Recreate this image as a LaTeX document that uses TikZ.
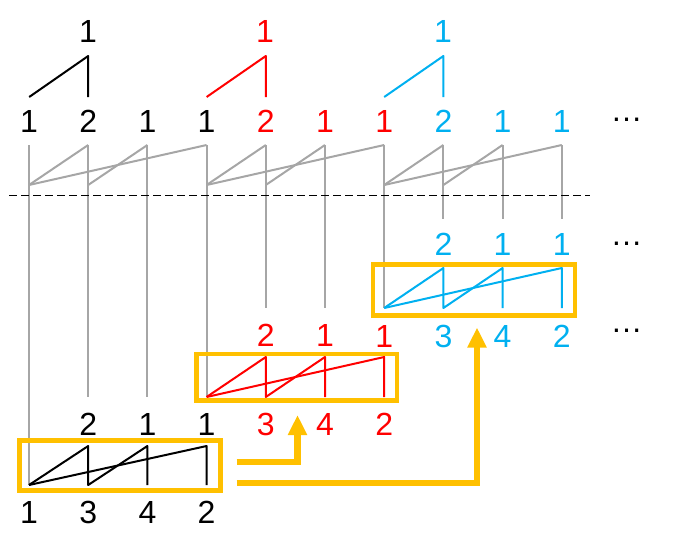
\documentclass[tikz,border=0pt]{standalone}
\usepackage{fontspec}
\setmainfont{Liberation Sans}
\usetikzlibrary{arrows.meta}
\definecolor{cgray}{HTML}{A6A6A6}
\definecolor{cred}{HTML}{FF0000}
\definecolor{cblue}{HTML}{00B0F0}
\definecolor{corange}{HTML}{FFC000}
\newcommand\drawzig[4]{%
  \draw[#4] (#1,#2) -- ({#1+59.2},#3) -- ({#1+59.2},#2) -- ({#1+118.4},#3) -- ({#1+118.4},#2);
  \draw[#4] (#1,#2) -- ({#1+177.6},#3) -- ({#1+177.6},#2);}
\newcommand\graydiag[1]{%
  \draw[gline] (#1,185) -- ({#1+59.2},145);
  \draw[gline] ({#1+59.2},185) -- ({#1+118.4},145);
  \draw[gline] (#1,185) -- ({#1+177.6},145);}
\begin{document}
\begin{tikzpicture}[x=0.75pt,y=-0.75pt,
  lbl/.style={inner sep=0pt, font=\fontsize{24}{28}\selectfont},
  gline/.style={cgray, line width=1.5pt, line join=round},
  zline/.style={line width=1.5pt, line join=round},
  hbox/.style={draw=corange, line width=3.3pt, inner sep=0pt},
  harrow/.style={corange, line width=4.6pt, -{Triangle[width=13.5pt,length=15pt]}},
  wedge/.style={line width=1.5pt, line join=round},
]
\useasboundingbox (0,0) rectangle (677,539);

% top labels and wedges
\node[lbl] (t0) at (88,31.5) {1};
\node[lbl, text=cred] (t1) at (265,31.5) {1};
\node[lbl, text=cblue] (t2) at (443,31.5) {1};
\draw[wedge, black] (29.2,97) -- (88.2,56) -- (88.2,97);
\draw[wedge, cred] (206.6,97) -- (265.8,56) -- (265.8,97);
\draw[wedge, cblue] (384.2,97) -- (443.4,56) -- (443.4,97);

% row labels
\node[lbl] (r0) at (29.0,121.5) {1};
\node[lbl] (r1) at (88.2,121.5) {2};
\node[lbl] (r2) at (147.4,121.5) {1};
\node[lbl] (r3) at (206.6,121.5) {1};
\node[lbl, text=cred] (r4) at (265.8,121.5) {2};
\node[lbl, text=cred] (r5) at (325.0,121.5) {1};
\node[lbl, text=cred] (r6) at (384.2,121.5) {1};
\node[lbl, text=cblue] (r7) at (443.4,121.5) {2};
\node[lbl, text=cblue] (r8) at (502.6,121.5) {1};
\node[lbl, text=cblue] (r9) at (561.8,121.5) {1};
\node[lbl] (d0) at (626.5,120) {…};

% gray verticals
\draw[gline] (29.0,145) -- (29.0,485);
\draw[gline] (88.2,145) -- (88.2,397);
\draw[gline] (147.4,145) -- (147.4,397);
\draw[gline] (206.6,145) -- (206.6,397);
\draw[gline] (265.8,145) -- (265.8,308);
\draw[gline] (325.0,145) -- (325.0,308);
\draw[gline] (384.2,145) -- (384.2,308);
\draw[gline] (443.4,145) -- (443.4,219);
\draw[gline] (502.6,145) -- (502.6,219);
\draw[gline] (561.8,145) -- (561.8,219);
\graydiag{29.0}
\graydiag{206.6}
\graydiag{384.2}

% dashed line
\coordinate (dl) at (9.3,195);
\coordinate (dr) at (590,195);
\draw[black, line width=0.75pt, dash pattern=on 6pt off 3pt] (dl) -- (dr);

% blue group
\node[lbl, text=cblue] (b1) at (443.4,244) {2};
\node[lbl, text=cblue] (b2) at (502.6,244) {1};
\node[lbl, text=cblue] (b3) at (561.8,244) {1};
\node[lbl] (d1) at (626.5,244) {…};
\node[hbox, minimum width=201.6*0.75pt, minimum height=51*0.75pt] (bl) at (474,290) {};
\drawzig{384.2}{308}{268}{zline, cblue}
\node[lbl, text=cred] (b4) at (384.2,336) {1};
\node[lbl, text=cblue] (b5) at (443.4,336) {3};
\node[lbl, text=cblue] (b6) at (502.6,336) {4};
\node[lbl, text=cblue] (b7) at (561.8,336) {2};
\node[lbl] (d2) at (626.5,331) {…};

% red group
\node[lbl, text=cred] (e1) at (265.8,335) {2};
\node[lbl, text=cred] (e2) at (325.0,335) {1};
\node[hbox, minimum width=200.7*0.75pt, minimum height=46.8*0.75pt] (rd) at (296.65,377.1) {};
\drawzig{206.6}{397}{357}{zline, cred}
\node[lbl] (e3) at (88.2,424) {2};
\node[lbl] (e4) at (147.4,424) {1};
\node[lbl] (e5) at (206.6,424) {1};
\node[lbl, text=cred] (e6) at (265.8,424) {3};
\node[lbl, text=cred] (e7) at (325.0,424) {4};
\node[lbl, text=cred] (e8) at (384.2,424) {2};

% black group
\node[hbox, minimum width=201.2*0.75pt, minimum height=50*0.75pt] (bk) at (119.9,465.5) {};
\drawzig{29.0}{485}{446}{zline, black}
\node[lbl] (k1) at (29.0,512) {1};
\node[lbl] (k2) at (88.2,512) {3};
\node[lbl] (k3) at (147.4,512) {4};
\node[lbl] (k4) at (206.6,512) {2};

% orange arrows
\coordinate (a1s) at (236.7,462.3);
\coordinate (a1t) at (297.5,415);
\coordinate (a2s) at (236.7,483.3);
\coordinate (a2t) at (477,327.5);
\draw[harrow] (a1s) -| (a1t);
\draw[harrow] (a2s) -| (a2t);
\end{tikzpicture}
\end{document}
